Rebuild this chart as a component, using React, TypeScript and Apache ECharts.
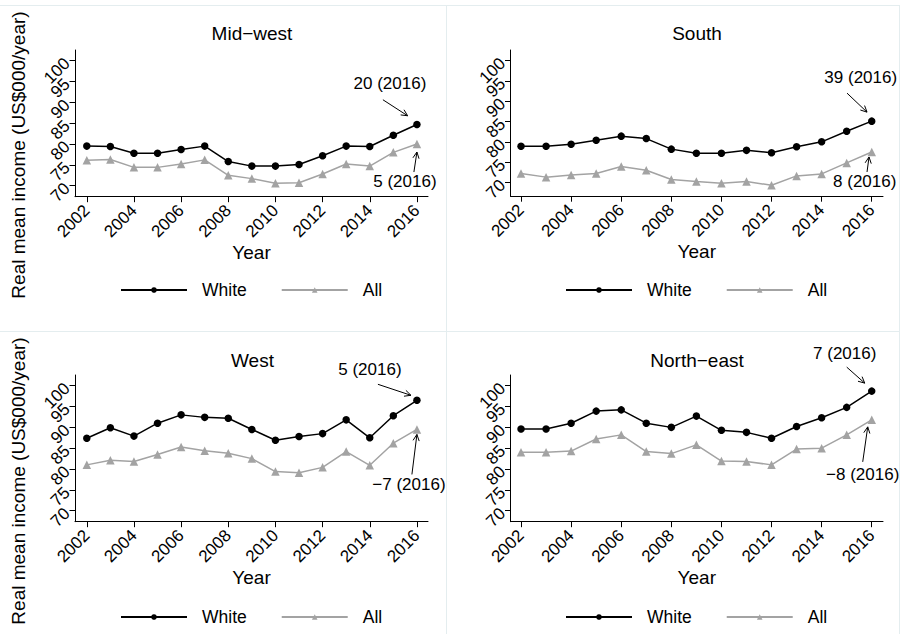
import React, { useEffect, useRef } from 'react';
import * as echarts from 'echarts';

// ---------- data ----------
const years = [2002, 2003, 2004, 2005, 2006, 2007, 2008, 2009, 2010, 2011, 2012, 2013, 2014, 2015, 2016];
const tickYears = [2002, 2004, 2006, 2008, 2010, 2012, 2014, 2016];
const yTicksMajor = [70, 80, 90, 100];
const yTicksMinor = [75, 85, 95];
const regions = ['Mid\u2212west', 'South', 'West', 'North\u2212east'];
const seriesNames = ['White', 'All'];

const midwestWhite = [79.5, 79.4, 77.8, 77.8, 78.7, 79.5, 75.8, 74.7, 74.7, 75.1, 77.2, 79.5, 79.4, 82.1, 84.7];
const midwestAll = [76.1, 76.3, 74.4, 74.4, 75.2, 76.2, 72.5, 71.7, 70.6, 70.7, 72.8, 75.2, 74.7, 78.0, 80.0];
const southWhite = [78.9, 78.9, 79.4, 80.4, 81.4, 80.8, 78.2, 77.2, 77.2, 77.9, 77.3, 78.8, 80.0, 82.6, 85.1];
const southAll = [72.2, 71.3, 71.8, 72.2, 73.9, 73.0, 70.7, 70.2, 69.8, 70.2, 69.3, 71.6, 72.1, 74.8, 77.5];
const westWhite = [87.4, 89.9, 87.9, 91.0, 93.0, 92.4, 92.2, 89.5, 86.9, 87.8, 88.5, 91.8, 87.5, 92.8, 96.5];
const westAll = [81.0, 82.1, 81.8, 83.5, 85.3, 84.4, 83.8, 82.5, 79.4, 79.1, 80.4, 84.2, 80.9, 86.2, 89.5];
const northeastWhite = [89.6, 89.6, 91.0, 93.9, 94.2, 91.0, 90.0, 92.7, 89.3, 88.8, 87.4, 90.2, 92.3, 94.8, 98.7];
const northeastAll = [84.0, 84.0, 84.3, 87.2, 88.2, 84.2, 83.7, 85.8, 81.9, 81.8, 81.0, 84.8, 85.0, 88.2, 91.8];

const whiteByRegion = [midwestWhite, southWhite, westWhite, northeastWhite];
const allByRegion = [midwestAll, southAll, westAll, northeastAll];
const whiteNotes = ['20 (2016)', '39 (2016)', '5 (2016)', '7 (2016)'];
const allNotes = ['5 (2016)', '8 (2016)', '\u22127 (2016)', '\u22128 (2016)'];
const yTitle = 'Real mean income (US$000/year)';

// ---------- layout ----------
const FONT = "'Liberation Sans', Arial, Helvetica, sans-serif";
const grids = [
  { left: 75, top: 50, width: 353, height: 146.7 },
  { left: 510.5, top: 50, width: 372.5, height: 146.2 },
  { left: 75, top: 375, width: 353, height: 146.7 },
  { left: 510.5, top: 375, width: 372.5, height: 146.7 },
];
const xMin = [2001.5, 2001.58, 2001.5, 2001.58];
const xMax = [2016.47, 2016.45, 2016.47, 2016.45];
const yMin = [67.36, 66.6, 67.36, 67.36];
const yMax = [102.57, 102.63, 102.57, 102.57];
const titlePos = [[252, 33], [697, 33], [252.5, 360.5], [697, 360.5]];
const legendPos = [[120, 281], [565, 281], [120, 608], [565, 608]];
const yTitlePos = [[18, 155], [18, 481]];

const annot = [
  { white: { text: [-27, -41], from: [-34, -24.7], to: [-9.3, -8.7] }, all: { text: [-12, 37.5], from: [-3, 28], to: [0, 8] } },
  { white: { text: [-11, -43.5], from: [-24.7, -28], to: [-4.7, -9] }, all: { text: [-7, 29.5], from: [-4.7, 20], to: [-2.7, 5] } },
  { white: { text: [-47, -31], from: [-39, -16], to: [-6, -5] }, all: { text: [-8, 55], from: [-5, 45], to: [0, 5] } },
  { white: { text: [-27, -37.5], from: [-25, -24], to: [-7, -8] }, all: { text: [-9, 54.5], from: [-9, 42], to: [-4, 7] } },
];

const BLACK = '#000000';
const GRAY = '#a3a3a3';
const BORDER = '#e4edef';

function textEl(text: string, x: number, y: number, size: number, rotation = 0) {
  return {
    type: 'text',
    x,
    y,
    rotation,
    silent: true,
    style: {
      text,
      fill: '#000',
      font: `${size}px ${FONT}`,
      textAlign: 'center',
      textVerticalAlign: 'middle',
      align: 'center',
      verticalAlign: 'middle',
    },
  };
}

function arrowEls(from: number[], to: number[]) {
  const dx = to[0] - from[0];
  const dy = to[1] - from[1];
  const len = Math.sqrt(dx * dx + dy * dy);
  const ux = dx / len;
  const uy = dy / len;
  const head = 7;
  const ang = (26 * Math.PI) / 180;
  const rot = (a: number) => [ux * Math.cos(a) - uy * Math.sin(a), ux * Math.sin(a) + uy * Math.cos(a)];
  const r1 = rot(ang);
  const r2 = rot(-ang);
  return [
    {
      type: 'line',
      silent: true,
      shape: { x1: from[0], y1: from[1], x2: to[0], y2: to[1] },
      style: { stroke: '#000', lineWidth: 1 },
    },
    {
      type: 'polyline',
      silent: true,
      shape: {
        points: [
          [to[0] - head * r1[0], to[1] - head * r1[1]],
          [to[0], to[1]],
          [to[0] - head * r2[0], to[1] - head * r2[1]],
        ],
      },
      style: { stroke: '#000', lineWidth: 1, fill: 'none' },
    },
  ];
}

function yAxisDef(i: number, ticks: number[], showLine: boolean) {
  return {
    type: 'value',
    gridIndex: i,
    position: 'left',
    offset: 0,
    min: yMin[i],
    max: yMax[i],
    axisLine: { show: showLine, lineStyle: { color: '#000', width: 1 } },
    axisTick: { show: true, length: 5.5, customValues: ticks, lineStyle: { color: '#000', width: 1 } },
    axisLabel: {
      customValues: ticks,
      rotate: 45,
      margin: 8,
      fontSize: 17,
      color: '#000',
      fontFamily: FONT,
      showMinLabel: true,
      showMaxLabel: true,
      hideOverlap: false,
      formatter: (v: number) => String(v),
    },
    splitLine: { show: false },
  };
}

export default function App() {
  const ref = useRef<HTMLDivElement>(null);

  useEffect(() => {
    if (!ref.current) return;
    const chart = echarts.init(ref.current, null, { renderer: 'svg' });

    const series: any[] = [];
    for (let p = 0; p < 4; p++) {
      series.push({
        type: 'line',
        name: seriesNames[0],
        xAxisIndex: p,
        yAxisIndex: p,
        data: years.map((yr, i) => [yr, whiteByRegion[p][i]]),
        symbol: 'circle',
        symbolSize: 7.5,
        showSymbol: true,
        lineStyle: { color: BLACK, width: 1.5 },
        itemStyle: { color: BLACK },
        z: 3,
      });
      series.push({
        type: 'line',
        name: seriesNames[1],
        xAxisIndex: p,
        yAxisIndex: p,
        data: years.map((yr, i) => [yr, allByRegion[p][i]]),
        symbol: 'triangle',
        symbolSize: 8.5,
        showSymbol: true,
        lineStyle: { color: GRAY, width: 1.5 },
        itemStyle: { color: GRAY },
        z: 2,
      });
    }

    const option: any = {
      animation: false,
      backgroundColor: '#ffffff',
      grid: grids.map((g) => ({ ...g, containLabel: false })),
      xAxis: grids.map((_, i) => ({
        type: 'value',
        gridIndex: i,
        min: xMin[i],
        max: xMax[i],
        name: 'Year',
        nameLocation: 'middle',
        nameGap: 46,
        nameMoveOverlap: false,
        nameTextStyle: { fontSize: 19, color: '#000', fontFamily: FONT },
        axisLine: { show: true, onZero: false, lineStyle: { color: '#000', width: 1 } },
        axisTick: { show: true, length: 5.5, customValues: tickYears, lineStyle: { color: '#000', width: 1 } },
        axisLabel: {
          customValues: tickYears,
          rotate: 45,
          margin: 11,
          fontSize: 17,
          color: '#000',
          fontFamily: FONT,
          showMinLabel: true,
          showMaxLabel: true,
          hideOverlap: false,
          formatter: (v: number) => String(v),
        },
        splitLine: { show: false },
      })),
      yAxis: [
        ...grids.map((_, i) => yAxisDef(i, yTicksMajor, true)),
        ...grids.map((_, i) => yAxisDef(i, yTicksMinor, false)),
      ],
      legend: legendPos.map((pos) => ({
        left: pos[0],
        top: pos[1],
        padding: 0,
        itemWidth: 66,
        itemHeight: 7,
        itemGap: 34,
        selectedMode: false,
        data: seriesNames,
        textStyle: { fontSize: 17.5, color: '#000', fontFamily: FONT, padding: [0, 0, 0, 10] },
      })),
      series,
    };
    chart.setOption(option);

    const graphics: any[] = [];
    // panel borders
    const borderLines = [
      [0, 5.5, 900, 5.5],
      [0, 331.5, 900, 331.5],
      [446.5, 5, 446.5, 634],
      [899.5, 5, 899.5, 634],
    ];
    borderLines.forEach((l) =>
      graphics.push({
        type: 'line',
        silent: true,
        shape: { x1: l[0], y1: l[1], x2: l[2], y2: l[3] },
        style: { stroke: BORDER, lineWidth: 1 },
      })
    );
    regions.forEach((r, p) => graphics.push(textEl(r, titlePos[p][0], titlePos[p][1], 19)));
    yTitlePos.forEach((pos) => graphics.push(textEl(yTitle, pos[0], pos[1], 19, Math.PI / 2)));

    for (let p = 0; p < 4; p++) {
      const last = years.length - 1;
      const pw = chart.convertToPixel({ gridIndex: p } as any, [years[last], whiteByRegion[p][last]]) as number[];
      const pa = chart.convertToPixel({ gridIndex: p } as any, [years[last], allByRegion[p][last]]) as number[];
      const a = annot[p];
      graphics.push(textEl(whiteNotes[p], pw[0] + a.white.text[0], pw[1] + a.white.text[1], 17));
      graphics.push(...arrowEls([pw[0] + a.white.from[0], pw[1] + a.white.from[1]], [pw[0] + a.white.to[0], pw[1] + a.white.to[1]]));
      graphics.push(textEl(allNotes[p], pa[0] + a.all.text[0], pa[1] + a.all.text[1], 17));
      graphics.push(...arrowEls([pa[0] + a.all.from[0], pa[1] + a.all.from[1]], [pa[0] + a.all.to[0], pa[1] + a.all.to[1]]));
    }
    chart.setOption({ graphic: { elements: graphics } });

    return () => {
      chart.dispose();
    };
  }, []);

  return <div ref={ref} style={{ position: 'absolute', left: 0, top: 0, width: 902, height: 634 }} />;
}
